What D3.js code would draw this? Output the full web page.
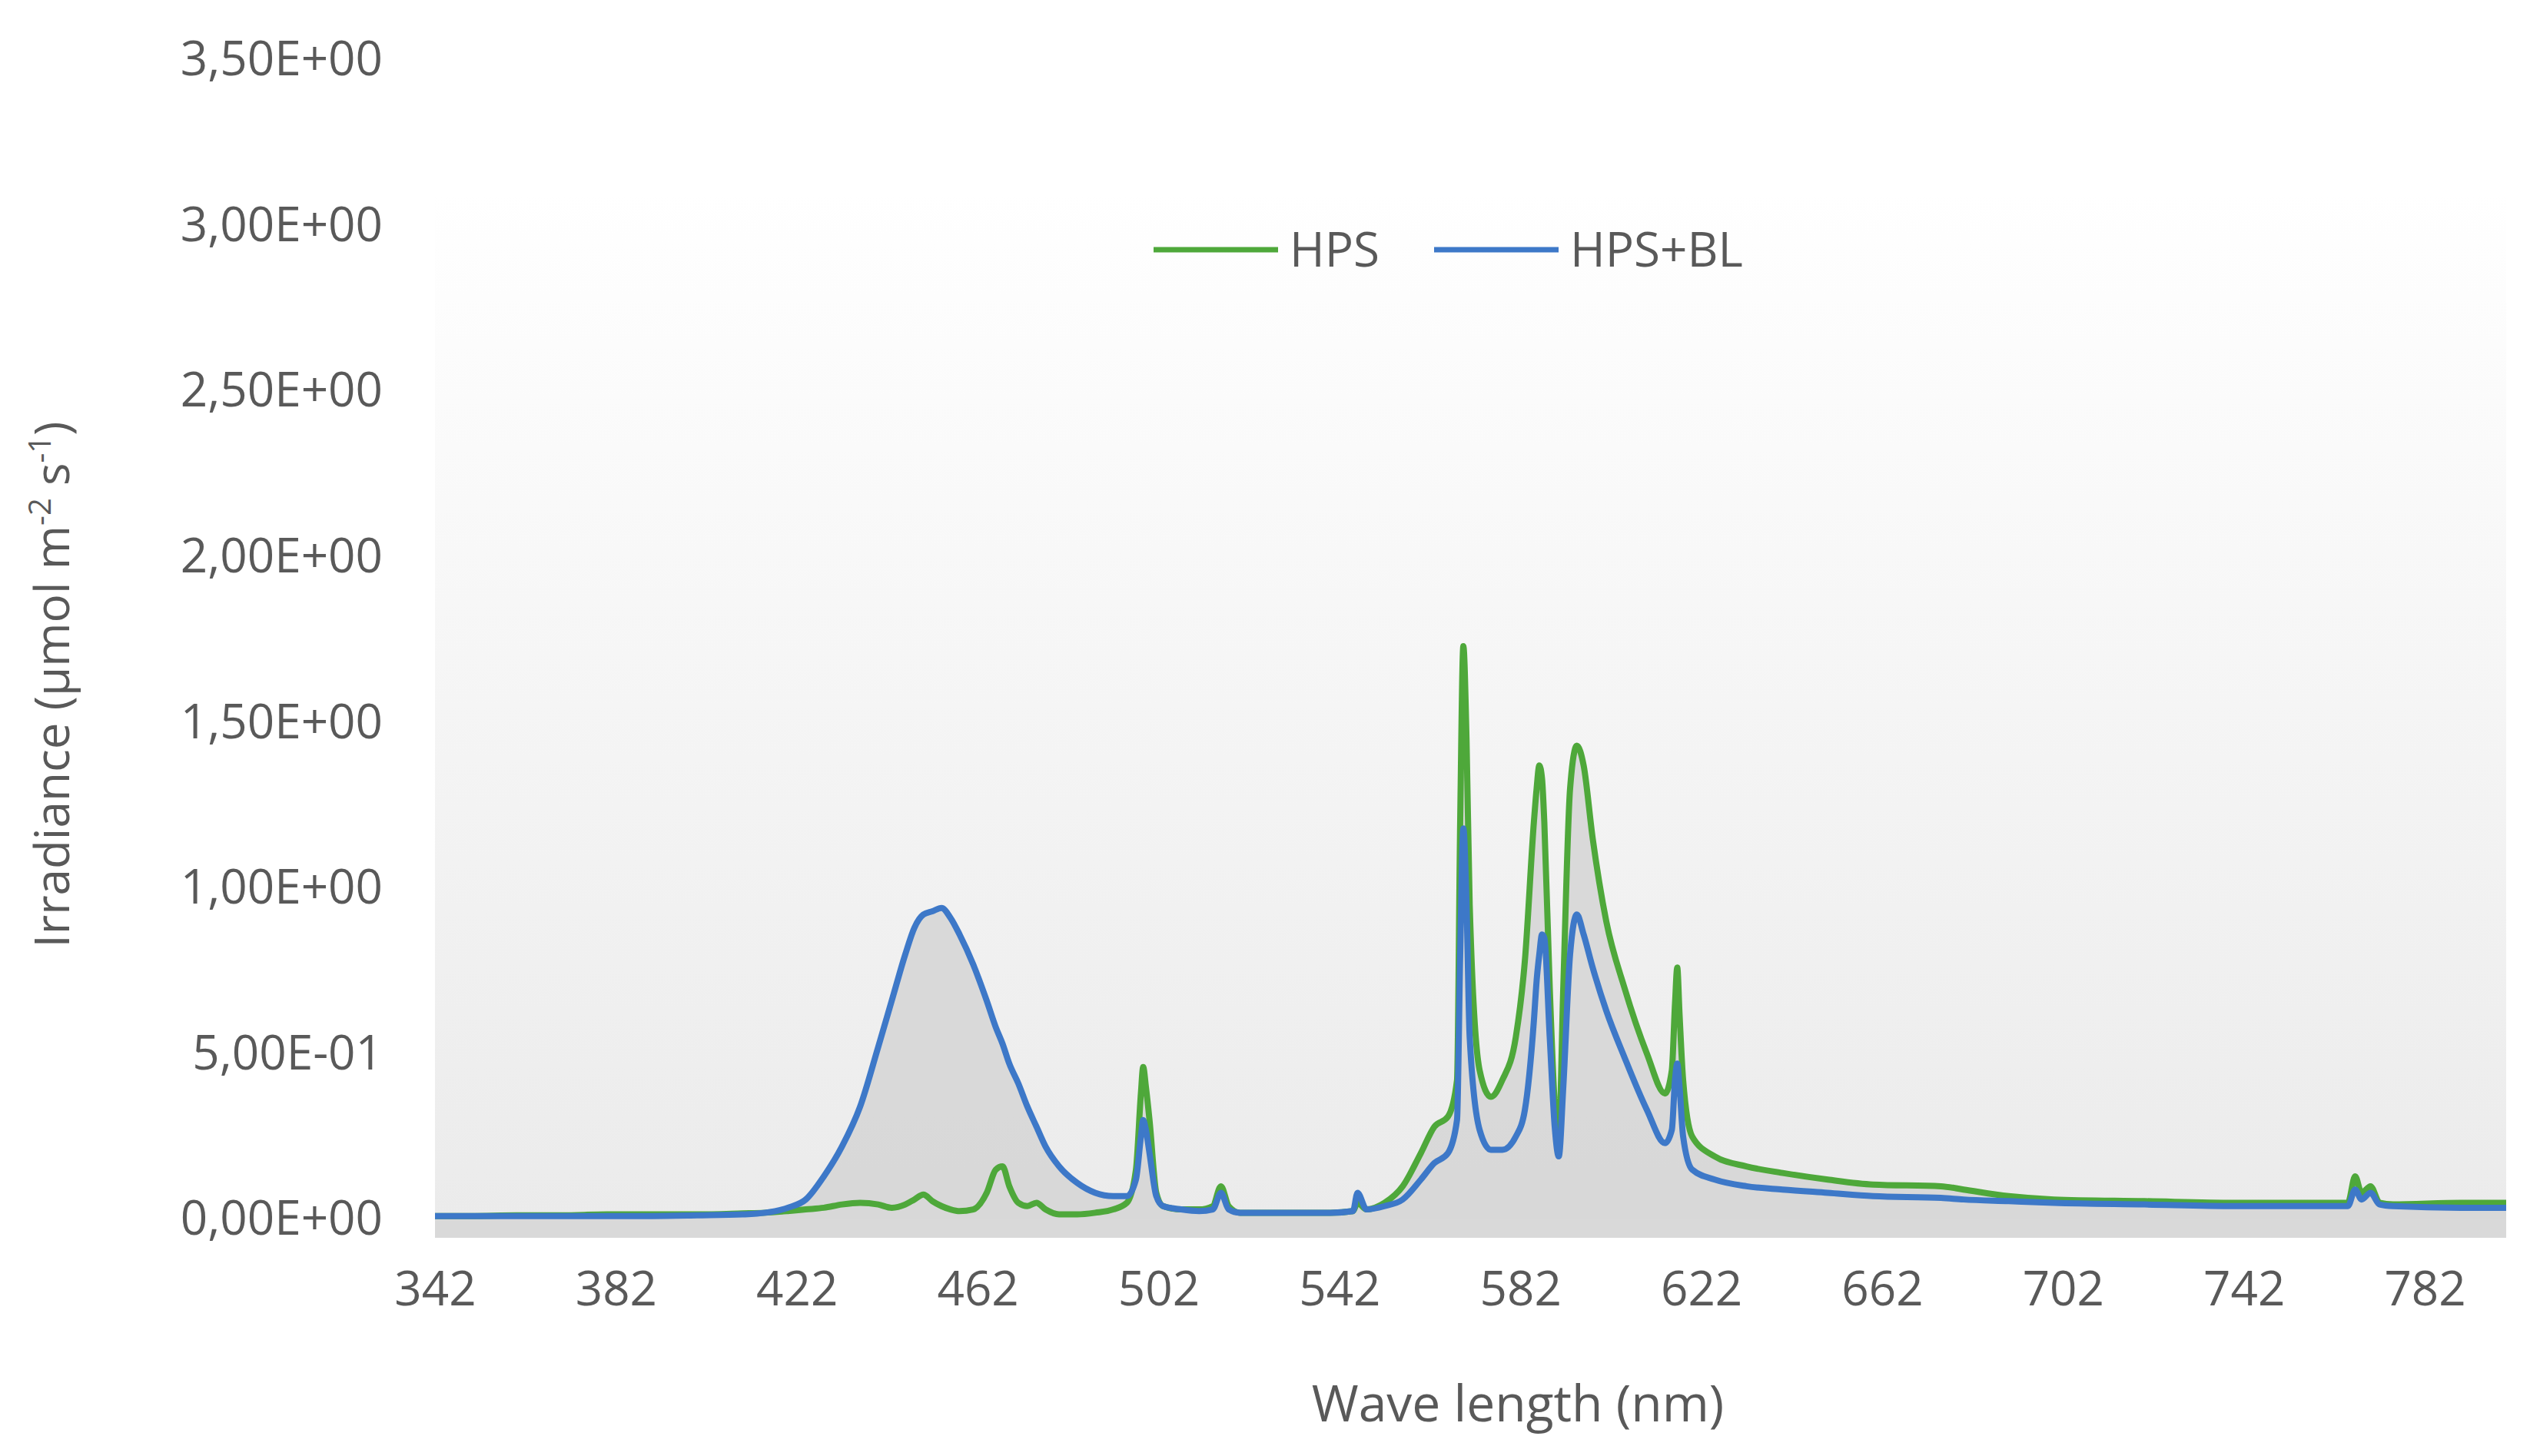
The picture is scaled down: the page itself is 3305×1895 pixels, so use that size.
<!DOCTYPE html>
<html><head><meta charset="utf-8">
<script src="https://cdn.jsdelivr.net/npm/d3@7"></script>
<style>body{margin:0;background:#fff}text{font-family:"Open Sans","Noto Sans",sans-serif;fill:#595959}</style>
</head><body><svg id="c" width="3305" height="1895"></svg>
<script>
const wavelength=[342,350,360,370,380,390,400,410,415,420,424,428,432,436,440,443,446,448,450,452,454,456,458,461,464,466,467.5,469,471,473,475,477,480,484,488,492,495,497,498.1,498.6,499.2,500,501.5,503,507,511,514,515.8,517.5,520,530,540,545,546,548,552,556,560,563,566,568,568.7,569.4,570.1,570.8,573,575.5,578,581,583,585,585.6,586.2,586.8,587.3,588.5,589.6,590.5,591.5,593,594.5,596,598,601,605,610,614,615.5,616.2,616.7,617.2,618,620,625,632,640,650,660,675,680,690,700,720,740,760,765,766.6,768,770,772,775,790,800];
const hpsBL=[0.01,0.01,0.01,0.01,0.01,0.01,0.012,0.015,0.02,0.035,0.06,0.13,0.22,0.34,0.52,0.66,0.8,0.88,0.92,0.93,0.94,0.91,0.86,0.77,0.66,0.58,0.53,0.47,0.41,0.34,0.28,0.22,0.16,0.11,0.08,0.07,0.07,0.12,0.25,0.3,0.27,0.2,0.07,0.04,0.03,0.025,0.03,0.08,0.03,0.02,0.02,0.02,0.025,0.08,0.03,0.04,0.06,0.12,0.17,0.2,0.3,0.8,1.18,0.95,0.55,0.27,0.21,0.21,0.25,0.33,0.6,0.72,0.8,0.86,0.85,0.55,0.28,0.19,0.4,0.8,0.92,0.86,0.76,0.63,0.49,0.33,0.23,0.27,0.42,0.47,0.4,0.25,0.15,0.12,0.1,0.09,0.08,0.07,0.065,0.06,0.055,0.05,0.045,0.04,0.04,0.04,0.09,0.06,0.08,0.045,0.04,0.035,0.035];
const hps=[0.01,0.01,0.012,0.012,0.015,0.015,0.015,0.018,0.02,0.025,0.03,0.035,0.045,0.05,0.045,0.035,0.045,0.06,0.075,0.055,0.04,0.03,0.025,0.03,0.08,0.15,0.16,0.1,0.05,0.04,0.05,0.03,0.015,0.015,0.02,0.03,0.05,0.15,0.38,0.46,0.4,0.3,0.08,0.04,0.03,0.03,0.04,0.1,0.04,0.02,0.02,0.02,0.025,0.05,0.03,0.05,0.1,0.2,0.28,0.31,0.42,1.2,1.73,1.45,0.95,0.45,0.37,0.42,0.55,0.78,1.2,1.3,1.37,1.33,1.2,0.7,0.35,0.25,0.7,1.3,1.43,1.37,1.15,0.9,0.7,0.5,0.38,0.45,0.65,0.76,0.62,0.42,0.25,0.19,0.16,0.14,0.12,0.105,0.1,0.09,0.07,0.06,0.055,0.05,0.05,0.05,0.13,0.08,0.1,0.05,0.045,0.05,0.05];
const xTicks=[342,382,422,462,502,542,582,622,662,702,742,782];
const yTicks=[0,0.5,1,1.5,2,2.5,3,3.5];
const seriesNames=["HPS","HPS+BL"];
const colors=["#4ea83a","#3d78c8"];

const svg=d3.select("#c");
const x=d3.scaleLinear().domain([342,800]).range([566,3261]);
const y=d3.scaleLinear().domain([0,3.5]).range([1587,78]);
const defs=svg.append("defs");
const g=defs.append("linearGradient").attr("id","bg").attr("x1",0).attr("x2",0).attr("y1",0).attr("y2",1);
g.append("stop").attr("offset",0).attr("stop-color","#ffffff");
g.append("stop").attr("offset",1).attr("stop-color","#ebebeb");
svg.append("rect").attr("x",x(342)).attr("y",250).attr("width",x(800)-x(342)).attr("height",y(0)-250).attr("fill","url(#bg)");
svg.append("rect").attr("x",x(342)).attr("y",y(0)).attr("width",x(800)-x(342)).attr("height",24).attr("fill","#d9d9d9");

const pts=wavelength.map((w,i)=>({w,g:hps[i],b:hpsBL[i]}));
const curve=d3.curveMonotoneX;
svg.append("path").datum(pts).attr("fill","#d6d6d6").attr("opacity",0.9)
 .attr("d",d3.area().curve(curve).x(d=>x(d.w)).y0(y(0)).y1(d=>y(Math.max(d.g,d.b))));
[["g",0],["b",1]].forEach(([k,i])=>{
 svg.append("path").datum(pts).attr("fill","none").attr("stroke",colors[i]).attr("stroke-width",8).attr("stroke-linejoin","round")
  .attr("d",d3.line().curve(curve).x(d=>x(d.w)).y(d=>y(d[k])));
});

const fmt=v=>v===0?"0,00E+00":(v<1?(v*10).toFixed(2).replace(".",",")+"E-01":v.toFixed(2).replace(".",",")+"E+00");
const ya=svg.append("g").attr("transform","translate(520,0)").call(d3.axisLeft(y).tickValues(yTicks).tickFormat(fmt).tickSize(0));
ya.select(".domain").remove();
ya.selectAll("text").attr("font-size",62).attr("x",-22).style("font-family","'Open Sans','Noto Sans',sans-serif").attr("fill","#595959");
const xa=svg.append("g").attr("transform","translate(0,1640)").call(d3.axisBottom(x).tickValues(xTicks).tickFormat(d3.format("d")).tickSize(0));
xa.select(".domain").remove();
xa.selectAll("text").attr("font-size",62).attr("dy","0.9em").style("font-family","'Open Sans','Noto Sans',sans-serif").attr("fill","#595959");

svg.append("text").attr("x",1975).attr("y",1850).attr("text-anchor","middle").attr("font-size",66).text("Wave length (nm)");
const yt=svg.append("text").attr("transform","translate(90,891) rotate(-90)").attr("text-anchor","middle").attr("font-size",62);
yt.append("tspan").text("Irradiance (µmol m");
yt.append("tspan").attr("font-size",40).attr("dy",-24).text("-2");
yt.append("tspan").attr("dy",24).text(" s");
yt.append("tspan").attr("font-size",40).attr("dy",-24).text("-1");
yt.append("tspan").attr("dy",24).text(")");

const lx=[1501,1866];
seriesNames.forEach((n,i)=>{
 svg.append("line").attr("x1",lx[i]).attr("x2",lx[i]+162).attr("y1",325).attr("y2",325).attr("stroke",colors[i]).attr("stroke-width",7);
 svg.append("text").attr("x",lx[i]+177).attr("y",325).attr("dy","0.35em").attr("font-size",62).text(n);
});
</script></body></html>
